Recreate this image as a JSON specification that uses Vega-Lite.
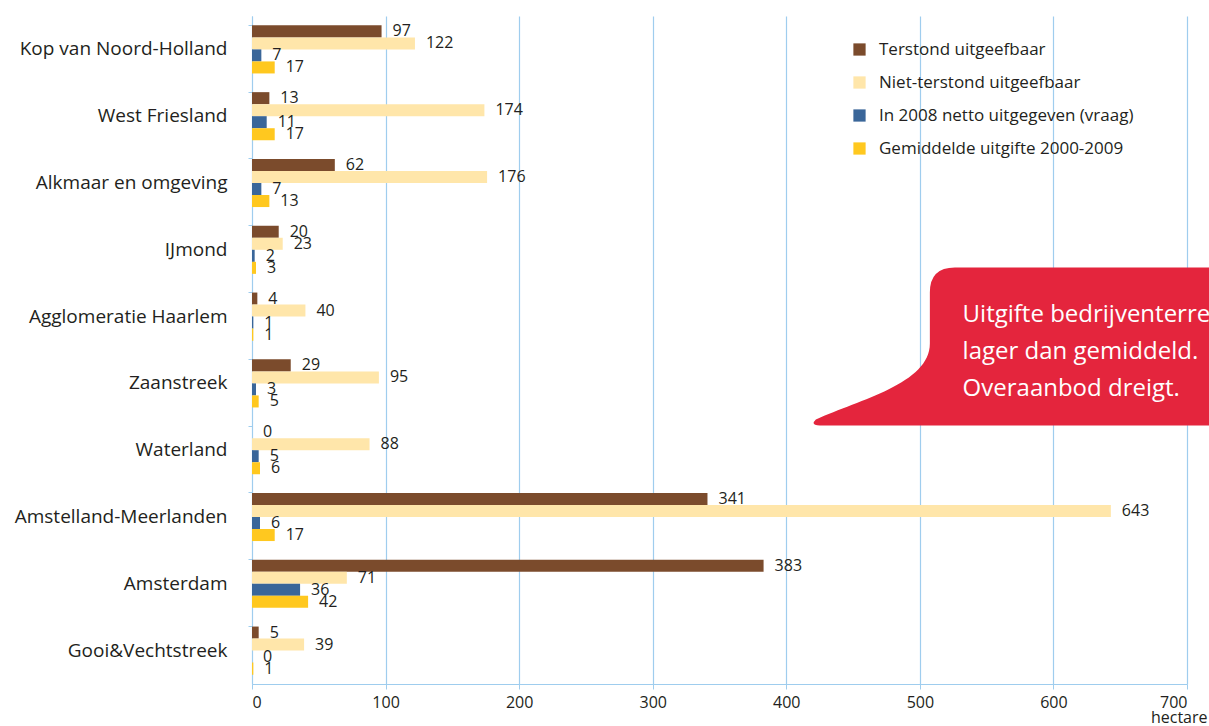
{
  "$schema": "https://vega.github.io/schema/vega-lite/v6.json",
  "width": 935,
  "height": 668,
  "autosize": {"type": "none"},
  "padding": {"left": 252, "top": 16, "right": 22, "bottom": 42},
  "background": "white",
  "config": {"view": {"stroke": null}, "font": "Open Sans"},
  "datasets": {
    "bars": [
      {"regio": "Kop van Noord-Holland", "reeks": "Terstond uitgeefbaar", "waarde": 97},
      {"regio": "Kop van Noord-Holland", "reeks": "Niet-terstond uitgeefbaar", "waarde": 122},
      {"regio": "Kop van Noord-Holland", "reeks": "In 2008 netto uitgegeven (vraag)", "waarde": 7},
      {"regio": "Kop van Noord-Holland", "reeks": "Gemiddelde uitgifte 2000-2009", "waarde": 17},
      {"regio": "West Friesland", "reeks": "Terstond uitgeefbaar", "waarde": 13},
      {"regio": "West Friesland", "reeks": "Niet-terstond uitgeefbaar", "waarde": 174},
      {"regio": "West Friesland", "reeks": "In 2008 netto uitgegeven (vraag)", "waarde": 11},
      {"regio": "West Friesland", "reeks": "Gemiddelde uitgifte 2000-2009", "waarde": 17},
      {"regio": "Alkmaar en omgeving", "reeks": "Terstond uitgeefbaar", "waarde": 62},
      {"regio": "Alkmaar en omgeving", "reeks": "Niet-terstond uitgeefbaar", "waarde": 176},
      {"regio": "Alkmaar en omgeving", "reeks": "In 2008 netto uitgegeven (vraag)", "waarde": 7},
      {"regio": "Alkmaar en omgeving", "reeks": "Gemiddelde uitgifte 2000-2009", "waarde": 13},
      {"regio": "IJmond", "reeks": "Terstond uitgeefbaar", "waarde": 20},
      {"regio": "IJmond", "reeks": "Niet-terstond uitgeefbaar", "waarde": 23},
      {"regio": "IJmond", "reeks": "In 2008 netto uitgegeven (vraag)", "waarde": 2},
      {"regio": "IJmond", "reeks": "Gemiddelde uitgifte 2000-2009", "waarde": 3},
      {"regio": "Agglomeratie Haarlem", "reeks": "Terstond uitgeefbaar", "waarde": 4},
      {"regio": "Agglomeratie Haarlem", "reeks": "Niet-terstond uitgeefbaar", "waarde": 40},
      {"regio": "Agglomeratie Haarlem", "reeks": "In 2008 netto uitgegeven (vraag)", "waarde": 1},
      {"regio": "Agglomeratie Haarlem", "reeks": "Gemiddelde uitgifte 2000-2009", "waarde": 1},
      {"regio": "Zaanstreek", "reeks": "Terstond uitgeefbaar", "waarde": 29},
      {"regio": "Zaanstreek", "reeks": "Niet-terstond uitgeefbaar", "waarde": 95},
      {"regio": "Zaanstreek", "reeks": "In 2008 netto uitgegeven (vraag)", "waarde": 3},
      {"regio": "Zaanstreek", "reeks": "Gemiddelde uitgifte 2000-2009", "waarde": 5},
      {"regio": "Waterland", "reeks": "Terstond uitgeefbaar", "waarde": 0},
      {"regio": "Waterland", "reeks": "Niet-terstond uitgeefbaar", "waarde": 88},
      {"regio": "Waterland", "reeks": "In 2008 netto uitgegeven (vraag)", "waarde": 5},
      {"regio": "Waterland", "reeks": "Gemiddelde uitgifte 2000-2009", "waarde": 6},
      {"regio": "Amstelland-Meerlanden", "reeks": "Terstond uitgeefbaar", "waarde": 341},
      {"regio": "Amstelland-Meerlanden", "reeks": "Niet-terstond uitgeefbaar", "waarde": 643},
      {"regio": "Amstelland-Meerlanden", "reeks": "In 2008 netto uitgegeven (vraag)", "waarde": 6},
      {"regio": "Amstelland-Meerlanden", "reeks": "Gemiddelde uitgifte 2000-2009", "waarde": 17},
      {"regio": "Amsterdam", "reeks": "Terstond uitgeefbaar", "waarde": 383},
      {"regio": "Amsterdam", "reeks": "Niet-terstond uitgeefbaar", "waarde": 71},
      {"regio": "Amsterdam", "reeks": "In 2008 netto uitgegeven (vraag)", "waarde": 36},
      {"regio": "Amsterdam", "reeks": "Gemiddelde uitgifte 2000-2009", "waarde": 42},
      {"regio": "Gooi&Vechtstreek", "reeks": "Terstond uitgeefbaar", "waarde": 5},
      {"regio": "Gooi&Vechtstreek", "reeks": "Niet-terstond uitgeefbaar", "waarde": 39},
      {"regio": "Gooi&Vechtstreek", "reeks": "In 2008 netto uitgegeven (vraag)", "waarde": 0},
      {"regio": "Gooi&Vechtstreek", "reeks": "Gemiddelde uitgifte 2000-2009", "waarde": 1}
    ],
    "note": [
      {"regio": "Zaanstreek", "waarde": 500, "tekst": "Uitgifte bedrijventerreinen in 2008\nlager dan gemiddeld.\nOveraanbod dreigt.", "tekstx": 532}
    ]
  },
  "layer": [
    {
      "data": {"name": "bars"},
      "mark": {"type": "bar"},
      "encoding": {
        "y": {
          "field": "regio", "type": "nominal", "sort": null,
          "scale": {"paddingInner": 0.28, "paddingOuter": 0.14},
          "axis": {
            "title": null, "bandPosition": 0, "domainColor": "#9fcdee", "tickColor": "#9fcdee",
            "tickSize": 4, "labelPadding": 21, "labelFontSize": 19, "labelColor": "#231f20",
            "labelFont": "Open Sans", "labelLimit": 300
          }
        },
        "yOffset": {
          "field": "reeks", "type": "nominal",
          "sort": ["Terstond uitgeefbaar", "Niet-terstond uitgeefbaar", "In 2008 netto uitgegeven (vraag)", "Gemiddelde uitgifte 2000-2009"],
          "scale": {"paddingInner": 0, "paddingOuter": 0}
        },
        "x": {
          "field": "waarde", "type": "quantitative",
          "scale": {"domain": [0, 700], "nice": false},
          "axis": {
            "title": "hectare", "titleAnchor": "end", "titleAlign": "right", "titleX": 955, "titleY": 38,
            "titleBaseline": "alphabetic",
            "titleFontSize": 16, "titleFontWeight": "normal", "titleColor": "#231f20", "titleFont": "Open Sans",
            "values": [0, 100, 200, 300, 400, 500, 600, 700],
            "grid": true, "gridColor": "#9fcdee", "gridWidth": 1.2,
            "domainColor": "#9fcdee", "tickColor": "#9fcdee", "tickSize": 5,
            "labelFontSize": 16, "labelColor": "#231f20", "labelPadding": 5, "labelFont": "Open Sans"
          }
        },
        "color": {
          "field": "reeks", "type": "nominal",
          "scale": {
            "domain": ["Terstond uitgeefbaar", "Niet-terstond uitgeefbaar", "In 2008 netto uitgegeven (vraag)", "Gemiddelde uitgifte 2000-2009"],
            "range": ["#7b4b2c", "#ffe6aa", "#3a6699", "#ffc81f"]
          },
          "legend": {
            "title": null, "orient": "none", "legendX": 599, "legendY": 25,
            "symbolType": "square", "symbolSize": 150, "symbolStrokeWidth": 0,
            "labelFontSize": 17, "labelColor": "#231f20", "labelFont": "Open Sans",
            "rowPadding": 15, "labelOffset": 11, "labelLimit": 400
          }
        }
      }
    },
    {
      "data": {"name": "bars"},
      "mark": {"type": "text", "align": "left", "baseline": "middle", "dx": 11, "fontSize": 16, "color": "#231f20", "font": "Open Sans"},
      "encoding": {
        "y": {"field": "regio", "type": "nominal", "sort": null},
        "yOffset": {
          "field": "reeks", "type": "nominal",
          "sort": ["Terstond uitgeefbaar", "Niet-terstond uitgeefbaar", "In 2008 netto uitgegeven (vraag)", "Gemiddelde uitgifte 2000-2009"]
        },
        "x": {"field": "waarde", "type": "quantitative"},
        "text": {"field": "waarde", "type": "quantitative"}
      }
    },
    {
      "data": {"name": "note"},
      "mark": {
        "type": "point", "filled": true, "opacity": 1, "color": "#e4253d", "strokeWidth": 0, "size": 4,
        "shape": "M 35 -116 L 420 -116 L 420 42 L -100 42 Q -110 42 -104 36 C -60 16 10 0 10 -40 L 10 -91 Q 10 -116 35 -116 Z"
      },
      "encoding": {
        "y": {"field": "regio", "type": "nominal", "sort": null},
        "x": {"field": "waarde", "type": "quantitative"}
      }
    },
    {
      "data": {"name": "note"},
      "mark": {
        "type": "text", "align": "left", "baseline": "alphabetic", "dy": -61, "lineBreak": "\n", "lineHeight": 37,
        "fontSize": 24, "color": "white", "font": "Open Sans"
      },
      "encoding": {
        "y": {"field": "regio", "type": "nominal", "sort": null},
        "x": {"field": "tekstx", "type": "quantitative"},
        "text": {"field": "tekst", "type": "nominal"}
      }
    }
  ]
}
